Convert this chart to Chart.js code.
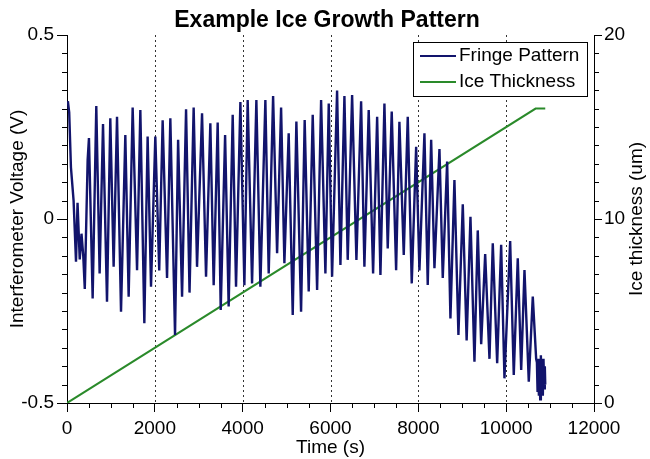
<!DOCTYPE html>
<html>
<head>
<meta charset="utf-8">
<title>Example Ice Growth Pattern</title>
<script src="https://cdn.jsdelivr.net/npm/chart.js@4.4.0/dist/chart.umd.min.js"></script>
<style>
  html, body { margin: 0; padding: 0; background: #fff; }
  #wrap { width: 650px; height: 459px; }
</style>
</head>
<body>
<div id="wrap"><canvas id="iceChart" width="650" height="459"></canvas></div>
<script>
// ---- data ----
const fringeTimes = [
  20, 50, 90, 150, 205, 240, 290, 330, 370, 405, 470, 500, 584, 667, 743, 820, 911, 986, 1062, 1139,
  1230, 1328, 1404, 1495, 1595, 1670, 1761, 1836, 1913, 2011,
  2100, 2178, 2278, 2353, 2460, 2530, 2620, 2711, 2790, 2884, 2961, 3075, 3166, 3264, 3340, 3431,
  3500, 3600, 3681, 3773, 3849, 3948,
  4039, 4114, 4214, 4312, 4403, 4517, 4593, 4693, 4784, 4875, 4950, 5048, 5140, 5223, 5330, 5412,
  5504, 5595, 5695, 5786, 5884, 5960,
  6036, 6150, 6226, 6317, 6392, 6492, 6590, 6697, 6772, 6870, 6970, 7062, 7137, 7228, 7303, 7394,
  7494, 7569, 7668, 7759, 7850, 7950,
  8025, 8139, 8214, 8292, 8367, 8481, 8556, 8656, 8731, 8822, 8913, 9012, 9100, 9187, 9278, 9353,
  9431, 9522, 9620, 9695, 9795, 9886,
  9961, 10091, 10173, 10264, 10342, 10417, 10515, 10606, 10683,
  10700, 10715, 10730, 10745, 10760, 10775, 10790, 10805, 10820, 10835, 10850, 10865, 10880, 10890
];
const fringeVolts = [
  0.32, 0.29, 0.14, 0.05, -0.116, 0.044, -0.11, -0.04, -0.10, -0.19, 0.16, 0.22, -0.216, 0.307, -0.148, 0.258, -0.225, 0.274, -0.13, 0.278,
  -0.252, 0.228, -0.211, 0.303, -0.139, 0.296, -0.283, 0.224, -0.184, 0.224,
  -0.14, 0.268, -0.16, 0.274, -0.315, 0.215, -0.211, 0.298, -0.2, 0.303, -0.13, 0.287, -0.157, 0.26, -0.18, 0.262,
  -0.247, 0.228, -0.238, 0.283, -0.184, 0.318,
  -0.18, 0.323, -0.175, 0.323, -0.184, 0.323, -0.148, 0.334, -0.093, 0.303, -0.12, 0.233, -0.261, 0.265, -0.252, 0.269,
  -0.197, 0.283, -0.193, 0.323, -0.148, 0.314,
  -0.157, 0.349, -0.125, 0.334, -0.111, 0.337, -0.111, 0.32, -0.13, 0.296, -0.148, 0.278, -0.152, 0.314, -0.08, 0.292,
  -0.139, 0.264, -0.098, 0.278, -0.175, 0.196,
  -0.14, 0.233, -0.179, 0.215, -0.134, 0.19, -0.16, 0.156, -0.27, 0.106, -0.315, 0.04, -0.33, 0.006, -0.388, -0.031,
  -0.34, -0.095, -0.38, -0.066, -0.392, -0.07,
  -0.433, -0.06, -0.424, -0.107, -0.41, -0.139, -0.442, -0.211, -0.38,
  -0.39, -0.47, -0.38, -0.48, -0.39, -0.49, -0.37, -0.47, -0.38, -0.48, -0.38, -0.46, -0.40, -0.45
];
const thicknessTimes = [0, 10670, 10890];
const thicknessValues = [0, 16, 16];

const timeTicks = [0, 2000, 4000, 6000, 8000, 10000, 12000];
const voltTicks = [-0.5, 0, 0.5];
const thickTicks = [0, 10, 20];
const gridTimes = [2000, 4000, 6000, 8000, 10000];

const FONT = "'Liberation Sans', Arial, sans-serif";
const NAVY = '#12146c';
const GREEN = '#2a8a2a';

// minor ticks, dotted lines, axis titles, title and legend
const decorPlugin = {
  id: 'decor',
  beforeDatasetsDraw(chart) {
    const ctx = chart.ctx;
    const area = chart.chartArea;
    const x = chart.scales.x;
    ctx.save();
    ctx.strokeStyle = '#333';
    ctx.lineWidth = 1;
    ctx.setLineDash([2, 3]);
    gridTimes.forEach(t => {
      const px = Math.round(x.getPixelForValue(t)) + 0.5;
      ctx.beginPath();
      ctx.moveTo(px, area.top);
      ctx.lineTo(px, area.bottom);
      ctx.stroke();
    });
    ctx.restore();
  },
  afterDraw(chart) {
    const ctx = chart.ctx;
    const area = chart.chartArea;
    const x = chart.scales.x, yl = chart.scales.y, yr = chart.scales.y2;
    ctx.save();
    ctx.strokeStyle = '#000';
    ctx.lineWidth = 1;
    ctx.beginPath();
    for (let t = 500; t < 12000; t += 500) {
      if (t % 2000 === 0) continue;
      const px = Math.round(x.getPixelForValue(t)) + 0.5;
      ctx.moveTo(px, area.bottom);
      ctx.lineTo(px, area.bottom + 5);
    }
    for (let i = 1; i < 20; i++) {
      if (i === 10) continue;
      const pl = Math.round(yl.getPixelForValue(-0.5 + i * 0.05)) + 0.5;
      ctx.moveTo(area.left, pl);
      ctx.lineTo(area.left - 5, pl);
      const pr = Math.round(yr.getPixelForValue(i)) + 0.5;
      ctx.moveTo(area.right, pr);
      ctx.lineTo(area.right + 5, pr);
    }
    ctx.stroke();

    // title
    ctx.fillStyle = '#000';
    ctx.font = 'bold 23px ' + FONT;
    ctx.textAlign = 'center';
    ctx.textBaseline = 'alphabetic';
    ctx.fillText('Example Ice Growth Pattern', 327, 27);

    // axis titles
    ctx.font = '19px ' + FONT;
    ctx.textBaseline = 'middle';
    ctx.fillText('Time (s)', (area.left + area.right) / 2, 448);
    ctx.save();
    ctx.translate(18, (area.top + area.bottom) / 2);
    ctx.rotate(-Math.PI / 2);
    ctx.fillText('Interferometer Voltage (V)', 0, 0);
    ctx.restore();
    ctx.save();
    ctx.translate(637, (area.top + area.bottom) / 2);
    ctx.rotate(-Math.PI / 2);
    ctx.fillText('Ice thickness (um)', 0, 0);
    ctx.restore();

    // legend box
    ctx.fillStyle = '#fff';
    ctx.fillRect(413.5, 42.5, 174, 54);
    ctx.strokeStyle = '#000';
    ctx.strokeRect(413.5, 42.5, 174, 54);
    const items = [['Fringe Pattern', NAVY, 56], ['Ice Thickness', GREEN, 82]];
    ctx.font = '19px ' + FONT;
    ctx.textAlign = 'left';
    items.forEach(([label, color, ly]) => {
      ctx.strokeStyle = color;
      ctx.lineWidth = 2;
      ctx.beginPath();
      ctx.moveTo(420, ly);
      ctx.lineTo(456, ly);
      ctx.stroke();
      ctx.fillStyle = '#000';
      ctx.fillText(label, 459, ly);
    });
    ctx.restore();
  }
};

const fringePoints = fringeTimes.map((t, i) => ({ x: t, y: fringeVolts[i] }));
const thicknessPoints = thicknessTimes.map((t, i) => ({ x: t, y: thicknessValues[i] }));

new Chart(document.getElementById('iceChart'), {
  type: 'line',
  data: {
    datasets: [
      {
        label: 'Fringe Pattern',
        data: fringePoints,
        yAxisID: 'y',
        borderColor: NAVY,
        borderWidth: 2.4,
        pointRadius: 0,
        tension: 0
      },
      {
        label: 'Ice Thickness',
        data: thicknessPoints,
        yAxisID: 'y2',
        borderColor: GREEN,
        borderWidth: 2,
        pointRadius: 0,
        tension: 0
      }
    ]
  },
  options: {
    responsive: false,
    animation: false,
    layout: { padding: { top: 35, left: 0, right: 0, bottom: 0 } },
    plugins: {
      legend: { display: false },
      title: { display: false },
      tooltip: { enabled: false }
    },
    scales: {
      x: {
        type: 'linear',
        position: 'bottom',
        min: 0,
        max: 12000,
        afterBuildTicks: s => { s.ticks = timeTicks.map(v => ({ value: v })); },
        afterFit: s => { s.height = 56; },
        ticks: { color: '#000', font: { size: 19, family: FONT }, padding: 5, maxRotation: 0, autoSkip: false,
                 callback: v => String(v) },
        grid: { drawOnChartArea: false, drawTicks: true, tickLength: 9, color: '#000' },
        border: { color: '#000', width: 1 }
      },
      y: {
        type: 'linear',
        position: 'left',
        min: -0.5,
        max: 0.5,
        afterBuildTicks: s => { s.ticks = voltTicks.map(v => ({ value: v })); },
        afterFit: s => { s.width = 67; },
        ticks: { color: '#000', font: { size: 19, family: FONT }, padding: 3, autoSkip: false,
                 callback: v => String(v) },
        grid: { drawOnChartArea: false, drawTicks: true, tickLength: 10, color: '#000' },
        border: { color: '#000', width: 1 }
      },
      y2: {
        type: 'linear',
        position: 'right',
        min: 0,
        max: 20,
        afterBuildTicks: s => { s.ticks = thickTicks.map(v => ({ value: v })); },
        afterFit: s => { s.width = 56; },
        ticks: { color: '#000', font: { size: 19, family: FONT }, padding: 2, autoSkip: false,
                 callback: v => String(v) },
        grid: { drawOnChartArea: false, drawTicks: true, tickLength: 8, color: '#000' },
        border: { color: '#000', width: 1 }
      }
    }
  },
  plugins: [decorPlugin]
});
</script>
</body>
</html>
